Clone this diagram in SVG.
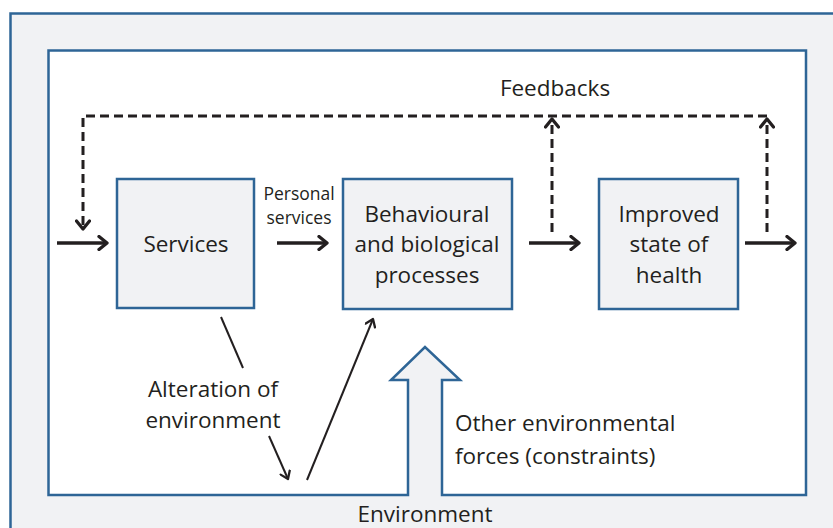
<svg xmlns="http://www.w3.org/2000/svg" width="833" height="528" viewBox="0 0 833 528">
<defs>
<style>
text{font-family:"Open Sans","Liberation Sans",sans-serif;fill:#231f20;text-anchor:middle}
.box{fill:#f1f2f4;stroke:#2e6596;stroke-width:2.5}
.arr{stroke:#231f20;stroke-width:3.3;fill:none}
.dash{stroke:#231f20;stroke-width:3;fill:none;stroke-dasharray:9 5}
.thin{stroke:#231f20;stroke-width:2;fill:none}
.lg{font-size:22.5px}
.sm{font-size:17.5px}
</style>
<marker id="ah" viewBox="0 0 14 16" refX="12" refY="8" markerWidth="14" markerHeight="16" markerUnits="userSpaceOnUse" orient="auto">
<path d="M4,1.5 L12,8 L4,14.5" fill="none" stroke="#231f20" stroke-width="3.3" stroke-linecap="round" stroke-linejoin="round"/>
</marker>
<marker id="ahs" viewBox="0 0 12 12" refX="10" refY="6" markerWidth="12" markerHeight="12" markerUnits="userSpaceOnUse" orient="auto">
<path d="M3,1 L10,6 L3,11" fill="none" stroke="#231f20" stroke-width="2.3" stroke-linecap="round" stroke-linejoin="round"/>
</marker>
</defs>
<rect width="833" height="528" fill="#ffffff"/>
<g id="environment">
<rect x="10.5" y="13.5" width="840" height="530" class="box"/>
<path d="M48.5,50.5 H806 V495 H442 V380 H460 L425,347 L391,380 H408 V495 H48.5 Z" fill="#ffffff" stroke="#2e6596" stroke-width="2.5"/>
<text x="425" y="522" class="lg">Environment</text>
</g>
<g id="services">
<rect x="117" y="179" width="137" height="129" class="box"/>
<text x="186" y="252" class="lg">Services</text>
</g>
<g id="behavioural">
<rect x="343" y="179" width="169" height="130" class="box"/>
<text x="427" y="222" class="lg">Behavioural</text>
<text x="427" y="252" class="lg">and biological</text>
<text x="427" y="283" class="lg">processes</text>
</g>
<g id="health">
<rect x="599" y="179" width="139" height="130" class="box"/>
<text x="669" y="222" class="lg">Improved</text>
<text x="669" y="252" class="lg">state of</text>
<text x="669" y="283" class="lg">health</text>
</g>
<g id="connectors">
<line x1="57" y1="243" x2="107" y2="243" class="arr" marker-end="url(#ah)"/>
<line x1="277" y1="243" x2="327" y2="243" class="arr" marker-end="url(#ah)"/>
<line x1="529" y1="243" x2="579" y2="243" class="arr" marker-end="url(#ah)"/>
<line x1="745" y1="243" x2="795" y2="243" class="arr" marker-end="url(#ah)"/>
<path d="M552,232 V119" class="dash" marker-end="url(#ah)"/>
<path d="M767,232 V119" class="dash" marker-end="url(#ah)"/>
<path d="M767,116 H83 V229" class="dash" marker-end="url(#ah)"/>
<line x1="221" y1="317" x2="243" y2="368" class="thin"/>
<line x1="269" y1="436" x2="288" y2="479" class="thin" marker-end="url(#ahs)"/>
<line x1="307" y1="480" x2="373" y2="319" class="thin" marker-end="url(#ahs)"/>
</g>
<g id="labels">
<text x="555" y="96" class="lg">Feedbacks</text>
<text x="299" y="200" class="sm">Personal</text>
<text x="299" y="224" class="sm">services</text>
<text x="213" y="397" class="lg">Alteration of</text>
<text x="213" y="428" class="lg">environment</text>
<text x="455" y="431" class="lg" style="text-anchor:start">Other environmental</text>
<text x="455" y="464" class="lg" style="text-anchor:start">forces (constraints)</text>
</g>
</svg>
